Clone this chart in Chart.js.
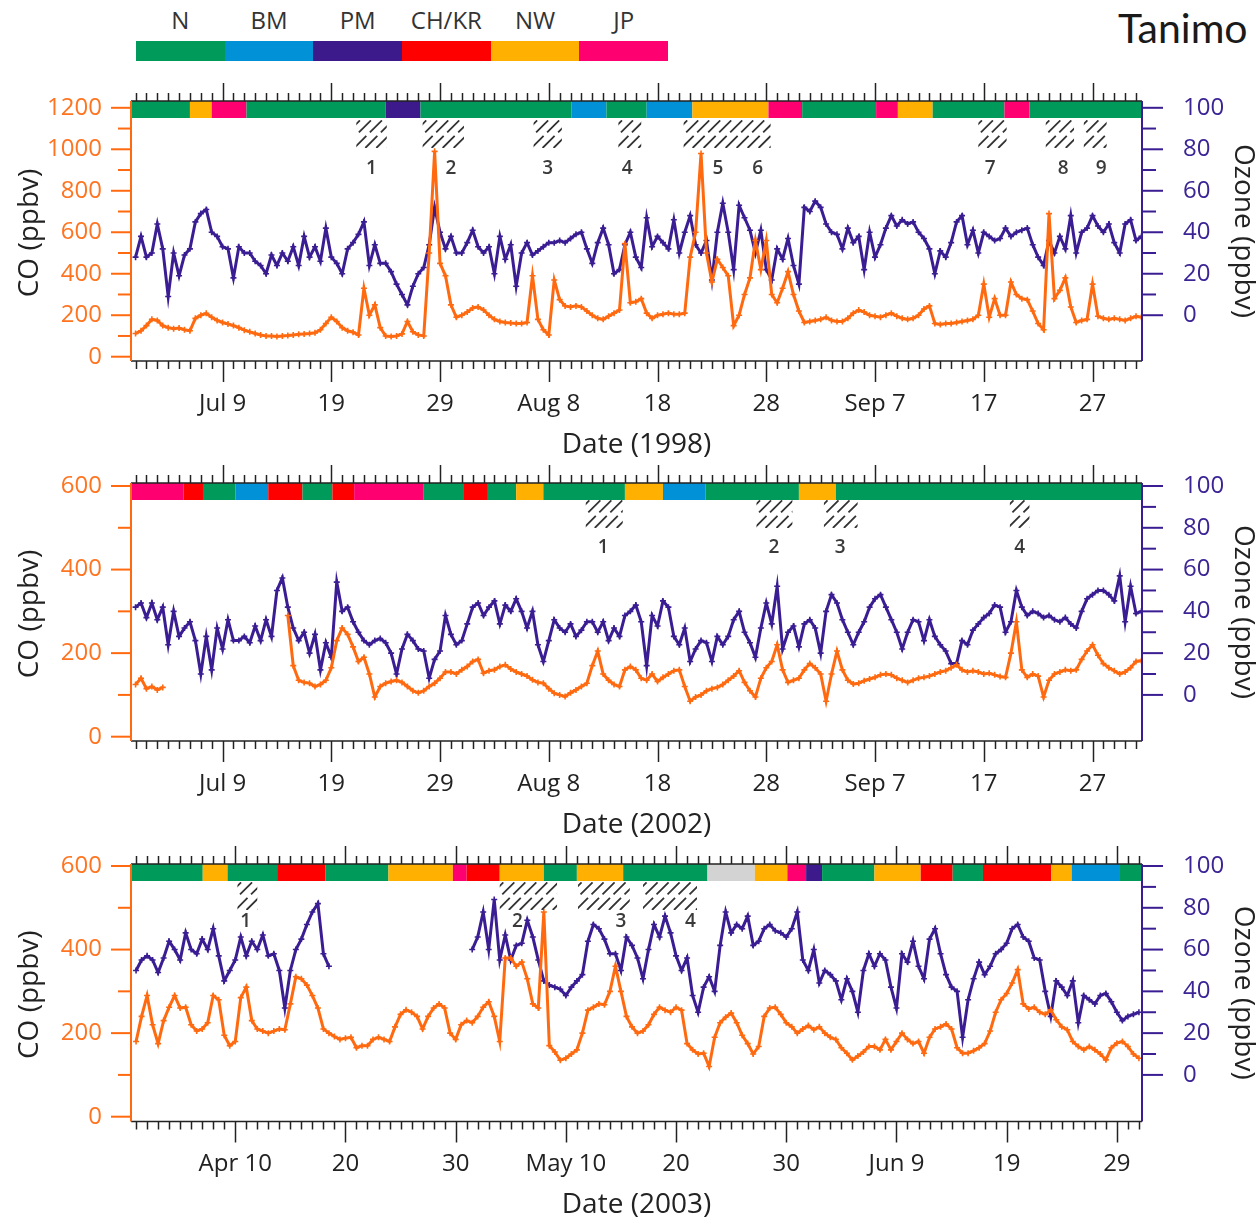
<!DOCTYPE html>
<html>
<head>
<meta charset="utf-8">
<title>CO and ozone time series</title>
<script src="https://cdn.jsdelivr.net/npm/chart.js@4.4.1/dist/chart.umd.min.js"></script>
<style>
  html, body { margin: 0; padding: 0; background: #fff; }
  body { width: 1260px; height: 1220px; position: relative; overflow: hidden; font-family: "Open Sans", sans-serif; }
  canvas { position: absolute; left: 0; }
  #legend { position: absolute; left: 136px; top: 0; width: 532px; }
  #legend .names { display: flex; height: 40px; }
  #legend .names span { flex: 1; text-align: center; font-size: 24px; line-height: 40px; color: #333; }
  #legend .bar { display: flex; height: 20px; margin-top: 1px; }
  #legend .bar span { flex: 1; }
  #author { position: absolute; left: 1118px; top: 3px; font-family: Lato, sans-serif; font-size: 41px; color: #1a1a1a; white-space: nowrap; }
</style>
</head>
<body>
<div id="legend"><div class="names"></div><div class="bar"></div></div>
<div id="author">Tanimo</div>
<canvas id="p1"></canvas>
<canvas id="p2"></canvas>
<canvas id="p3"></canvas>
<script>
// air mass types
const massNames = ['N', 'BM', 'PM', 'CH/KR', 'NW', 'JP'];
const massColors = ['#009B5A', '#0091D6', '#3D1A8C', '#FF0000', '#FFB000', '#FF0070'];
const otherColor = '#D3D3D3';

const STEP = 0.5; // half-day samples, day 0 = first day of each period

// 1998 (day 0 = Jul 1)
const co1998 = [
  112,125,150,180,175,150,140,135,138,130,
  125,185,200,209,190,175,165,158,150,140,
  128,120,112,105,100,100,98,100,102,105,
  108,110,112,115,130,160,190,170,140,125,
  118,105,330,200,250,140,100,98,100,110,
  170,120,105,100,500,990,450,390,250,190,
  200,215,235,240,225,200,180,170,165,162,
  160,160,165,390,180,130,105,370,275,245,
  240,245,240,220,200,185,180,195,210,225,
  545,260,265,280,210,185,200,205,210,205,
  205,210,480,600,980,500,360,470,430,390,
  150,200,300,380,560,420,560,300,260,330,
  410,300,220,165,170,175,180,190,175,170,
  170,185,210,225,215,200,195,190,200,210,
  195,185,180,185,200,230,245,160,155,160,
  160,165,170,175,180,200,350,190,280,200,
  200,360,300,280,275,220,160,130,690,280,
  320,380,240,165,175,180,350,195,185,180,
  185,180,175,185,195,190
];
const o3_1998 = [
  28,38,28,30,44,32,9,30,19,29,
  32,45,49,51,40,38,33,32,18,33,
  30,30,26,24,20,29,24,30,26,33,
  24,38,28,33,26,42,28,25,20,32,
  35,39,45,24,34,25,25,21,15,10,
  5,14,20,23,34,52,40,32,38,30,
  30,35,41,33,30,33,20,38,27,34,
  14,30,35,29,31,33,35,35,36,35,
  37,39,40,32,25,35,42,34,20,22,
  34,40,28,23,47,33,38,35,32,46,
  30,40,48,34,30,36,17,40,54,40,
  22,53,47,41,30,41,22,17,32,27,
  37,24,15,52,50,55,52,44,40,39,
  32,42,35,38,22,40,28,34,42,48,
  43,46,44,45,40,37,32,20,31,28,
  35,45,48,34,41,30,40,38,36,37,
  42,38,40,41,42,34,28,24,36,30,
  38,32,48,30,40,42,48,43,40,44,
  35,30,44,46,36,38
];

// 2002 (day 0 = Jul 1)
const co2002 = [
  125,140,115,120,112,118,null,null,null,null,
  null,null,null,null,null,null,null,null,null,null,
  null,null,null,null,null,null,null,null,290,170,
  135,130,128,120,125,135,165,230,260,245,
  215,180,190,150,95,120,128,132,135,130,
  120,110,105,110,120,128,140,155,155,150,
  160,168,180,185,152,158,160,168,172,162,
  155,150,145,136,130,128,115,104,100,96,
  105,112,120,128,170,205,150,135,125,120,
  160,168,160,140,135,150,132,142,150,158,
  160,120,85,95,100,110,115,118,125,135,
  145,158,130,110,95,140,165,180,220,160,
  130,135,140,160,175,165,150,85,150,205,
  160,135,126,128,134,138,142,148,150,148,
  140,135,130,135,140,142,145,150,155,158,
  165,172,160,155,158,155,150,152,148,144,
  142,200,275,160,142,150,145,95,135,150,
  155,160,158,160,185,205,220,195,175,165,
  158,150,155,165,180,182
];
const o3_2002 = [
  42,44,37,44,36,42,24,40,28,32,
  35,26,10,28,12,32,22,36,26,26,
  28,25,33,26,36,28,50,56,42,32,
  26,30,20,29,12,25,18,54,40,42,
  35,30,26,24,26,27,25,20,10,22,
  29,26,22,21,8,17,21,38,29,24,
  26,34,42,44,38,42,45,34,43,40,
  46,40,32,40,24,16,26,36,32,30,
  34,28,31,35,35,30,35,26,32,28,
  38,40,43,35,14,38,33,45,42,28,
  24,32,16,22,26,25,16,28,24,28,
  36,40,30,25,18,32,44,34,52,22,
  30,33,23,34,36,32,20,40,48,44,
  36,30,24,30,35,42,46,48,42,36,
  30,22,30,36,35,26,36,28,24,21,
  15,15,26,24,31,34,37,39,43,42,
  30,35,50,42,38,40,39,37,38,36,
  35,37,34,32,40,46,48,50,50,48,
  45,57,35,52,39,40
];

// 2003 (day 0 = Apr 1)
const co2003 = [
  180,240,290,220,175,230,262,290,260,262,
  220,205,210,225,290,280,195,170,180,285,
  310,230,210,205,200,205,210,208,270,335,
  330,315,290,260,210,200,192,185,188,190,
  165,170,170,185,190,185,180,215,245,256,
  250,240,210,240,260,270,260,200,185,220,
  230,225,240,262,275,240,180,380,380,360,
  370,330,270,260,490,170,155,135,140,150,
  160,200,255,262,270,268,300,360,300,240,
  215,200,205,220,245,262,255,250,262,255,
  175,160,150,152,120,190,225,238,248,225,
  195,175,150,168,240,260,262,245,225,215,
  200,210,218,208,215,200,190,185,165,152,
  136,145,155,168,168,160,185,160,180,200,
  185,175,180,152,190,210,215,222,210,165,
  152,152,158,165,175,205,250,280,295,320,
  352,270,258,262,250,245,256,232,215,208,
  180,168,160,168,160,150,136,165,176,180,
  168,150,140
];
const o3_2003 = [
  50,55,57,55,49,56,64,60,55,68,
  60,58,65,60,70,57,45,50,55,66,
  57,64,60,67,57,58,50,32,50,60,
  65,72,78,82,58,52,null,null,null,null,
  null,null,null,null,null,null,null,null,null,null,
  null,null,null,null,null,null,null,null,null,null,
  null,60,66,78,60,84,55,67,55,62,
  63,74,66,55,45,43,42,41,38,42,
  45,48,64,72,70,65,58,58,50,66,
  62,56,46,60,72,66,76,68,57,50,
  56,38,30,42,47,40,62,78,68,72,
  70,76,62,64,70,72,69,68,66,70,
  78,55,50,60,44,50,48,45,36,46,
  40,30,50,58,52,58,55,42,32,58,
  54,64,52,46,65,70,58,48,42,40,
  18,36,46,54,48,52,58,60,63,70,
  72,66,64,56,55,40,28,45,42,38,
  45,25,38,36,34,38,39,35,30,26,
  28,29,30
];

// air mass band: segment edges (days) and type of each segment
const band1998Edges = [-0.42, 5.0, 7.0, 10.2, 23.0, 26.2, 40.1, 43.3, 47.0, 51.2, 58.2, 61.3, 68.1, 70.1, 73.3, 79.9, 82.2, 92.55];
const band1998Types = ['N','NW','JP','N','PM','N','BM','N','BM','NW','JP','N','JP','NW','N','JP','N'];
const band2002Edges = [-0.42, 4.4, 6.2, 9.2, 12.2, 15.35, 18.1, 20.1, 26.5, 30.2, 32.4, 35.0, 37.5, 45.0, 48.5, 52.4, 61.0, 64.4, 92.55];
const band2002Types = ['JP','CH/KR','N','BM','CH/KR','N','CH/KR','JP','N','CH/KR','N','NW','N','NW','BM','N','NW','N'];
const band2003Edges = [-0.46, 6.05, 8.3, 12.8, 17.2, 22.9, 28.75, 30.0, 33.0, 37.0, 40.0, 44.2, 51.85, 56.15, 59.1, 60.8, 62.25, 67.0, 71.2, 74.1, 76.85, 83.05, 84.9, 89.2, 91.28];
const band2003Types = ['N','NW','N','CH/KR','N','NW','JP','CH/KR','NW','N','NW','N','other','NW','JP','PM','N','NW','CH/KR','N','CH/KR','NW','BM','N'];

// numbered events: hatched spans and label days
const hatch1998From = [20.3, 26.4, 36.6, 44.4, 50.4, 77.5, 83.7, 87.2];
const hatch1998To   = [23.1, 30.2, 39.2, 46.5, 58.4, 80.1, 86.3, 89.3];
const event1998Days = [21.7, 29.0, 37.9, 45.2, 53.55, 57.2, 78.6, 85.3, 88.8];
const hatch2002From = [41.4, 57.1, 63.3, 80.4];
const hatch2002To   = [44.8, 60.4, 66.4, 82.2];
const event2002Days = [43.0, 58.7, 64.8, 81.3];
const hatch2003From = [9.2, 33.0, 40.1, 46.0];
const hatch2003To   = [11.0, 38.2, 44.8, 50.9];
const event2003Days = [9.95, 34.6, 44.0, 50.3];

// x tick labels
const summerTickDays = [8, 18, 28, 38, 48, 58, 68, 78, 88];
const summerTickLabels = ['Jul 9', '19', '29', 'Aug 8', '18', '28', 'Sep 7', '17', '27'];
const springTickDays = [9, 19, 29, 39, 49, 59, 69, 79, 89];
const springTickLabels = ['Apr 10', '20', '30', 'May 10', '20', '30', 'Jun 9', '19', '29'];

// y ticks
const coTicks1998 = [0, 200, 400, 600, 800, 1000, 1200];
const coMinor1998 = [100, 300, 500, 700, 900, 1100];
const coTicks = [0, 200, 400, 600];
const coMinor = [100, 300, 500];
const o3Ticks = [0, 20, 40, 60, 80, 100];
const o3Minor = [10, 30, 50, 70, 90];

const CO_COLOR = '#FF6A10';
const CO_TEXT = '#FF7420';
const O3_COLOR = '#3A1D92';
const O3_TEXT = '#3C2494';
const FONT = '"Open Sans", sans-serif';

// legend
const names = document.querySelector('#legend .names');
const bar = document.querySelector('#legend .bar');
massNames.forEach((n, i) => {
  const s = document.createElement('span'); s.textContent = n; names.appendChild(s);
  const b = document.createElement('span'); b.style.background = massColors[i]; bar.appendChild(b);
});
function massColor(t) {
  const i = massNames.indexOf(t);
  return i < 0 ? otherColor : massColors[i];
}

function txt(ctx, s, x, y, font, color, align, rot) {
  ctx.save();
  ctx.translate(x, y);
  if (rot) ctx.rotate(rot);
  ctx.font = font; ctx.fillStyle = color;
  ctx.textAlign = align || 'center'; ctx.textBaseline = 'middle';
  ctx.fillText(s, 0, 0);
  ctx.restore();
}
function seg(ctx, x0, y0, x1, y1) {
  ctx.beginPath(); ctx.moveTo(x0, y0); ctx.lineTo(x1, y1); ctx.stroke();
}

const decor = {
  id: 'decor',
  afterDatasetsDraw(chart, args, o) {
    const ctx = chart.ctx;
    const xs = chart.scales.x, yc = chart.scales.yCO, yo = chart.scales.yO3;
    const { left, right, top, bottom } = chart.chartArea;
    ctx.save();

    // air mass band
    for (let i = 0; i < o.bandTypes.length; i++) {
      const x0 = xs.getPixelForValue(o.bandEdges[i]);
      const x1 = xs.getPixelForValue(o.bandEdges[i + 1]);
      ctx.fillStyle = massColor(o.bandTypes[i]);
      ctx.fillRect(x0, top, x1 - x0, 17);
    }

    // hatched event spans
    const hy0 = top + o.hatchTop, hy1 = top + o.hatchTop + 28;
    o.hatchFrom.forEach((d, i) => {
      const x0 = xs.getPixelForValue(d), x1 = xs.getPixelForValue(o.hatchTo[i]);
      ctx.save();
      ctx.beginPath(); ctx.rect(x0, hy0, x1 - x0, hy1 - hy0); ctx.clip();
      ctx.strokeStyle = '#333'; ctx.lineWidth = 1.8; ctx.setLineDash([17, 5]);
      const h = hy1 - hy0;
      for (let x = x0 - h + 4; x < x1 + 2; x += 11) seg(ctx, x, hy1, x + h, hy0);
      ctx.restore();
    });
    o.eventDays.forEach((d, i) => {
      txt(ctx, String(i + 1), xs.getPixelForValue(d), top + o.labelTop, '600 19px ' + FONT, '#3a3a3a');
    });

    // date axes, bottom and top
    ctx.strokeStyle = '#222'; ctx.lineWidth = 1.5;
    seg(ctx, left, bottom, right, bottom);
    seg(ctx, left, top, right, top);
    for (let d = Math.ceil(xs.min); d <= xs.max; d++) {
      const px = Math.round(xs.getPixelForValue(d)) + 0.5;
      const major = o.tickDays.includes(d);
      seg(ctx, px, bottom, px, bottom + (major ? 21 : 8));
      seg(ctx, px, top, px, top - (major ? 18 : 8));
    }
    o.tickDays.forEach((d, i) => {
      txt(ctx, o.tickLabels[i], xs.getPixelForValue(d), bottom + 43, '24px ' + FONT, '#222');
    });
    txt(ctx, o.dateTitle, (left + right) / 2, bottom + 84, '28px ' + FONT, '#222');

    // CO axis (left)
    ctx.strokeStyle = CO_COLOR; ctx.lineWidth = 2;
    seg(ctx, left, top, left, bottom);
    o.coTicks.forEach(v => {
      const py = yc.getPixelForValue(v);
      seg(ctx, left - 20, py, left, py);
      txt(ctx, String(v), left - 29, py, '24px ' + FONT, CO_TEXT, 'right');
    });
    o.coMinor.forEach(v => {
      const py = yc.getPixelForValue(v);
      seg(ctx, left - 13, py, left, py);
    });
    txt(ctx, 'CO (ppbv)', 30, (top + bottom) / 2 + 2, '28px ' + FONT, '#222', 'center', -Math.PI / 2);

    // ozone axis (right)
    ctx.strokeStyle = O3_COLOR; ctx.lineWidth = 2;
    seg(ctx, right, top, right, bottom);
    o3Ticks.forEach(v => {
      const py = yo.getPixelForValue(v);
      seg(ctx, right, py, right + 21, py);
      txt(ctx, String(v), right + 41, py, '24px ' + FONT, O3_TEXT, 'left');
    });
    o3Minor.forEach(v => {
      const py = yo.getPixelForValue(v);
      seg(ctx, right, py, right + 14, py);
    });
    txt(ctx, 'Ozone (ppbv)', 1243, (top + bottom) / 2, '28px ' + FONT, '#222', 'center', Math.PI / 2);

    ctx.restore();
  }
};

function makePanel(p) {
  const canvas = document.getElementById(p.id);
  canvas.width = 1260; canvas.height = p.canvasHeight;
  canvas.style.top = p.canvasTop + 'px';
  const days = p.co.map((_, i) => i * STEP);
  const line = (label, data, axis, color) => ({
    label, data, yAxisID: axis,
    borderColor: color, backgroundColor: color, borderWidth: 3,
    pointStyle: 'cross', pointRadius: 3, pointBorderWidth: 1.6, pointBorderColor: color,
    spanGaps: false, tension: 0
  });
  return new Chart(canvas, {
    type: 'line',
    data: {
      labels: days,
      datasets: [
        line('CO', p.co, 'yCO', CO_COLOR),
        line('Ozone', p.o3, 'yO3', O3_COLOR)
      ]
    },
    options: {
      responsive: false,
      animation: false,
      events: [],
      layout: { padding: { left: 131, right: 118, top: p.areaTop - p.canvasTop, bottom: p.canvasTop + p.canvasHeight - p.areaBottom } },
      plugins: {
        legend: { display: false },
        tooltip: { enabled: false },
        decor: p.decor
      },
      scales: {
        x: { type: 'linear', display: false, min: p.xMin, max: p.xMax },
        yCO: { type: 'linear', display: false, position: 'left', min: p.coMin, max: p.coMax },
        yO3: { type: 'linear', display: false, position: 'right', min: p.o3Min, max: p.o3Max }
      }
    },
    plugins: [decor]
  });
}

makePanel({
  id: 'p1', canvasTop: 60, canvasHeight: 402, areaTop: 101, areaBottom: 361,
  xMin: -0.42, xMax: 92.55, coMin: -20.7, coMax: 1232.8, o3Min: -22.07, o3Max: 103.28,
  co: co1998, o3: o3_1998,
  decor: {
    bandEdges: band1998Edges, bandTypes: band1998Types,
    hatchFrom: hatch1998From, hatchTo: hatch1998To, eventDays: event1998Days,
    hatchTop: 19, labelTop: 68,
    tickDays: summerTickDays, tickLabels: summerTickLabels, dateTitle: 'Date (1998)',
    coTicks: coTicks1998, coMinor: coMinor1998
  }
});
makePanel({
  id: 'p2', canvasTop: 462, canvasHeight: 378, areaTop: 483, areaBottom: 741,
  xMin: -0.42, xMax: 92.55, coMin: -10.3, coMax: 607.2, o3Min: -22.06, o3Max: 101.44,
  co: co2002, o3: o3_2002,
  decor: {
    bandEdges: band2002Edges, bandTypes: band2002Types,
    hatchFrom: hatch2002From, hatchTo: hatch2002To, eventDays: event2002Days,
    hatchTop: 17, labelTop: 65,
    tickDays: summerTickDays, tickLabels: summerTickLabels, dateTitle: 'Date (2002)',
    coTicks: coTicks, coMinor: coMinor
  }
});
makePanel({
  id: 'p3', canvasTop: 840, canvasHeight: 380, areaTop: 864, areaBottom: 1121.5,
  xMin: -0.46, xMax: 91.28, coMin: -11.5, coMax: 604.8, o3Min: -22.3, o3Max: 100.96,
  co: co2003, o3: o3_2003,
  decor: {
    bandEdges: band2003Edges, bandTypes: band2003Types,
    hatchFrom: hatch2003From, hatchTo: hatch2003To, eventDays: event2003Days,
    hatchTop: 18, labelTop: 58,
    tickDays: springTickDays, tickLabels: springTickLabels, dateTitle: 'Date (2003)',
    coTicks: coTicks, coMinor: coMinor
  }
});
</script>
</body>
</html>
